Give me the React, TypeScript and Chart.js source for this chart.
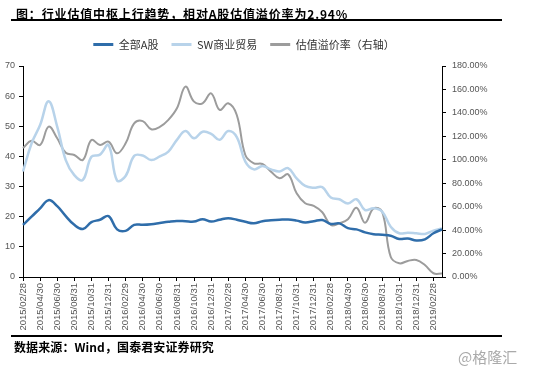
import React, { useEffect, useRef } from "react";
import { Chart, registerables } from "chart.js";
Chart.register(...registerables);

const dates = [
  "2015/02/28", "2015/03/31", "2015/04/30", "2015/05/31", "2015/06/30", "2015/07/31", "2015/08/31", "2015/09/30", "2015/10/31", "2015/11/30", "2015/12/31",
  "2016/01/31", "2016/02/29", "2016/03/31", "2016/04/30", "2016/05/31", "2016/06/30", "2016/07/31", "2016/08/31", "2016/09/30", "2016/10/31", "2016/11/30", "2016/12/31",
  "2017/01/31", "2017/02/28", "2017/03/31", "2017/04/30", "2017/05/31", "2017/06/30", "2017/07/31", "2017/08/31", "2017/09/30", "2017/10/31", "2017/11/30", "2017/12/31",
  "2018/01/31", "2018/02/28", "2018/03/31", "2018/04/30", "2018/05/31", "2018/06/30", "2018/07/31", "2018/08/31", "2018/09/30", "2018/10/31", "2018/11/30", "2018/12/31",
  "2019/01/31", "2019/02/28", "2019/03/31",
];

const allA = [
  17.3, 20, 22.8, 25.5, 23.5, 20.2, 17.3, 15.9, 18.2, 19, 20.2,
  15.8, 15.3, 17.3, 17.3, 17.5, 17.9, 18.3, 18.6, 18.5, 18.4, 19.2, 18.4,
  19, 19.5, 19, 18.3, 17.8, 18.5, 18.8, 19, 19.1, 18.7, 18.1, 18.5,
  18.9, 17.6, 17.8, 16.2, 15.8, 14.8, 14.2, 14, 13.7, 12.6, 12.8, 12.1,
  12.5, 14.5, 15.8,
];

const swTrade = [
  35, 44.3, 50.4, 58.3, 49.9, 38.8, 33.8, 32.2, 39.9, 40.6, 43.8,
  32, 33.5, 40.2, 40.3, 38.8, 40, 41.6, 45.5, 48.4, 46, 48.2, 47.5,
  45.5, 48.4, 46.4, 38.3, 35.7, 36.8, 35.7, 35, 36.1, 32.7, 30.2, 29.6,
  29.8, 26.4, 25.8, 24.4, 25.8, 22.2, 22.8, 21.7, 16.7, 14.5, 14.7, 14.5,
  14.3, 15.4, 16.1,
];

const premium = [
  110, 116.3, 112.6, 128.3, 118.3, 106, 104.1, 99.8, 116.9, 112.6, 115.4,
  105.5, 114, 131, 133, 126, 128, 134, 143.9, 162.4, 149.6, 148.2, 156.7,
  142.5, 148.2, 138.2, 104.1, 97, 96.4, 89.9, 84.2, 87.6, 71.4, 62.9, 60.6,
  55.2, 44.4, 45.8, 49.2, 59.1, 46.3, 58.6, 55.7, 17.3, 11.7, 13.7, 14.5,
  10.2, 3.2, 2.94,
];

const seriesNames = ["全部A股", "SW商业贸易", "估值溢价率（右轴）"];
const colors = ["#2F6DAA", "#B8D3EA", "#9C9C9C"];

const tickFont = { family: "'Liberation Sans', Arial, sans-serif", size: 9 };
const tickColor = "#555555";

export default function App() {
  const ref = useRef<HTMLCanvasElement | null>(null);

  useEffect(() => {
    if (!ref.current) return;
    const chart = new Chart(ref.current, {
      type: "line",
      data: {
        labels: dates,
        datasets: [
          { label: seriesNames[0], data: allA, yAxisID: "y", borderColor: colors[0], backgroundColor: colors[0], borderWidth: 2.5 },
          { label: seriesNames[1], data: swTrade, yAxisID: "y", borderColor: colors[1], backgroundColor: colors[1], borderWidth: 2.5 },
          { label: seriesNames[2], data: premium, yAxisID: "y1", borderColor: colors[2], backgroundColor: colors[2], borderWidth: 2 },
        ].map((d) => ({ ...d, pointRadius: 0, pointHoverRadius: 0, tension: 0.4, fill: false })),
      },
      options: {
        responsive: false,
        animation: false,
        devicePixelRatio: 1,
        layout: { padding: { top: 26, right: 66, bottom: 0, left: 0 } },
        plugins: {
          tooltip: { enabled: false },
          title: { display: true, text: " ", font: { size: 6, lineHeight: 1 }, padding: 0, weight: 500 } as any,
          legend: {
            display: true,
            position: "top",
            labels: {
              boxWidth: 20,
              boxHeight: 3,
              padding: 13,
              color: "#333333",
              font: { family: "'Noto Sans CJK SC', sans-serif", size: 11 },
              generateLabels: (c: any) =>
                (Chart.defaults.plugins.legend.labels.generateLabels as any)(c).map((l: any) => ({
                  ...l,
                  lineWidth: 0,
                  fillStyle: l.strokeStyle,
                })),
            },
          },
        },
        scales: {
          x: {
            type: "category",
            offset: false,
            grid: { display: true, drawOnChartArea: false, drawTicks: true, tickLength: 4, color: "#000" },
            border: { display: true, color: "#000", width: 1 },
            ticks: {
              autoSkip: false,
              minRotation: 90,
              maxRotation: 90,
              padding: 2,
              color: tickColor,
              font: { ...tickFont, size: 9.5 },
              callback: (_v: any, i: number) => (i % 2 === 0 ? dates[i] : null),
            },
            afterFit: (s: any) => {
              s.height = 93;
            },
          },
          y: {
            position: "left",
            min: 0,
            max: 70,
            grid: { display: true, drawOnChartArea: false, drawTicks: true, tickLength: 4, color: "#000" },
            border: { display: true, color: "#000", width: 1 },
            ticks: { stepSize: 10, padding: 4, color: tickColor, font: tickFont },
            afterFit: (s: any) => {
              s.width = 23;
            },
          },
          y1: {
            position: "right",
            min: 0,
            max: 180,
            grid: { display: true, drawOnChartArea: false, drawTicks: true, tickLength: 4, color: "#000" },
            border: { display: true, color: "#000", width: 1 },
            ticks: {
              stepSize: 20,
              padding: 6,
              color: tickColor,
              font: tickFont,
              callback: (v: any) => Number(v).toFixed(2) + "%",
            },
            afterFit: (s: any) => {
              s.width = 46;
            },
          },
        },
      } as any,
    });
    return () => chart.destroy();
  }, []);

  const cjk = "'Noto Sans CJK SC', sans-serif";
  return (
    <div style={{ position: "absolute", left: 0, top: 0, width: 554, height: 370, background: "#fff", overflow: "hidden" }}>
      <canvas ref={ref} width={554} height={370} style={{ position: "absolute", left: 0, top: 0, display: "block" }} />
      <div
        style={{
          position: "absolute", left: 16, top: 8, fontFamily: cjk, fontWeight: 700, fontSize: 12,
          lineHeight: "12px", letterSpacing: 0.85, color: "#000", whiteSpace: "nowrap",
        }}
      >
        图：行业估值中枢上行趋势，相对A股估值溢价率为2.94%
      </div>
      <div style={{ position: "absolute", left: 11, top: 19, width: 491, height: 2, background: "#000" }} />
      <div style={{ position: "absolute", left: 11, top: 335, width: 491, height: 2, background: "#000" }} />
      <div
        style={{
          position: "absolute", left: 14, top: 341, fontFamily: cjk, fontWeight: 700, fontSize: 12,
          lineHeight: "12px", letterSpacing: 0.1, color: "#000", whiteSpace: "nowrap",
        }}
      >
        数据来源：Wind，国泰君安证券研究
      </div>
      <div
        style={{
          position: "absolute", left: 458, top: 349, fontFamily: cjk, fontSize: 15,
          lineHeight: "16px", color: "#aaaaaa", whiteSpace: "nowrap",
        }}
      >
        @格隆汇
      </div>
    </div>
  );
}
